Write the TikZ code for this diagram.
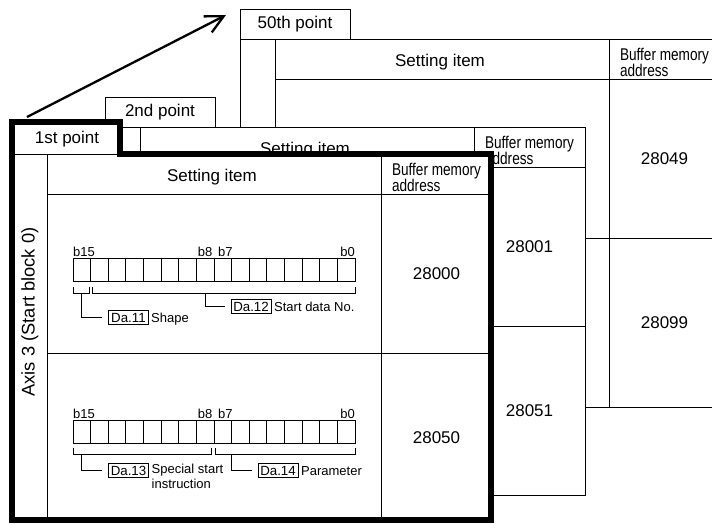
\documentclass[tikz,border=0pt]{standalone}
\usepackage{fontspec}
\setmainfont{Liberation Sans}
\newfontfamily\condfont[FakeStretch=0.8]{Liberation Sans}
\usetikzlibrary{arrows.meta,positioning}
\definecolor{ink}{RGB}{0,0,0}
\newcommand{\bufsize}{\condfont\fontsize{17}{15.5}\selectfont\lineskiplimit=-8pt}
\tikzset{
  rule/.style={draw=ink,line width=0.9pt},
  heavy/.style={draw=ink,line width=5.5pt,line join=miter},
  lbl/.style={font=\fontsize{17}{17}\selectfont,inner sep=0pt},
  bufhdr/.style={font=\bufsize,align=left,inner sep=0pt},
  axis/.style={font=\fontsize{18.3}{18.3}\selectfont,rotate=90,inner sep=0pt},
  bit/.style={font=\fontsize{13}{13}\selectfont,inner sep=1pt},
  da/.style={draw=ink,line width=0.9pt,font=\fontsize{13.3}{13.3}\selectfont,
    inner xsep=2.3pt,inner ysep=2pt,text height=9.6pt,text depth=0pt},
  note/.style={font=\fontsize{13}{15}\selectfont,inner sep=1pt,align=left},
  ar/.style={-{Straight Barb[length=18pt,width=18pt]},line width=2.3pt},
}
\newcommand{\ptframe}[6]{%
  \begin{scope}[shift={(#1,#2)}]
    \fill[white] (0,-30) rectangle (110,0) (0,0) rectangle (480,368);
    \draw[rule] (0,-30) rectangle (110,0) (0,0) rectangle (480,368);
    \draw[rule] (35,0) -- (35,368) (369,0) -- (369,368)
      (35,40) -- (480,40) (35,199) -- (480,199);
    \node[lbl] (tab#3) at (55,-15) {#4};
    \node[lbl] (set#3) at (200,23) {Setting item};
    \node[bufhdr] (buf#3) at (424.5,23.3) {Buffer memory\\address};
    \node[lbl] (ad#3a) at (424.5,119.5) {#5};
    \node[lbl] (ad#3b) at (424.5,283.5) {#6};
  \end{scope}}

\begin{document}
\begin{tikzpicture}[x=1pt,y=-1pt]
  \useasboundingbox (0,0) rectangle (712,523);
  \clip (0,0) rectangle (712,523);
  \fill[white] (0,0) rectangle (712,523);
  \ptframe{240}{39}{c}{50th point}{28049}{28099}
  \ptframe{105}{127}{b}{2nd point}{28001}{28051}
  \ptframe{12}{154}{a}{1st point}{28000}{28050}
  \draw[heavy] (12,122) -- (120,122) -- (120,154) -- (491,154) -- (491,520) -- (12,520) -- cycle;
  \node[axis] (axt) at (30,312) {Axis 3 (Start block 0)};
  \foreach \gy/\r in {258.5/1,420.5/2} {
    \foreach \i in {0,...,15}
      \draw[rule] (73+\i*17.625,\gy) rectangle ++(17.625,23);
    \node[bit,anchor=base west] (hi\r) at (72,\gy-2) {b15};
    \node[bit,anchor=base east] (mh\r) at (213.5,\gy-2) {b8};
    \node[bit,anchor=base west] (ml\r) at (217,\gy-2) {b7};
    \node[bit,anchor=base east] (lo\r) at (356,\gy-2) {b0};
  }
  \draw[rule] (73,287) |- (89,293) -- (89,287);
  \draw[rule] (92,287) |- (355,293) -- (355,287);
  \draw[rule] (73,448) |- (211,454) -- (211,448);
  \draw[rule] (215,448) |- (355,454) -- (355,448);
  \coordinate (k1) at (81,293);
  \coordinate (k2) at (205,293);
  \coordinate (k3) at (81.5,454);
  \coordinate (k4) at (231.5,454);
  \node[da] (da11) at (128.5,317.3) {Da.11};
  \node[da] (da12) at (251,306.5) {Da.12};
  \node[da] (da13) at (128.5,470.3) {Da.13};
  \node[da] (da14) at (278,470.3) {Da.14};
  \draw[rule] (k1) |- ([xshift=-6pt]da11.west);
  \draw[rule] (k2) |- ([xshift=-6pt]da12.west);
  \draw[rule] (k3) |- ([xshift=-6pt]da13.west);
  \draw[rule] (k4) |- ([xshift=-6pt]da14.west);
  \node[note,base right=1.5pt of da11] (shp) {Shape};
  \node[note,base right=1.5pt of da12] (sdn) {Start data No.};
  \node[note,anchor=north west] (ssi) at ([xshift=1.5pt]da13.north east) {Special start\\instruction};
  \node[note,base right=1.5pt of da14] (prm) {Parameter};
  \coordinate (arS) at (27,117);
  \coordinate (arE) at (226,15);
  \draw[ar] (arS) -- (arE);
\end{tikzpicture}
\end{document}
